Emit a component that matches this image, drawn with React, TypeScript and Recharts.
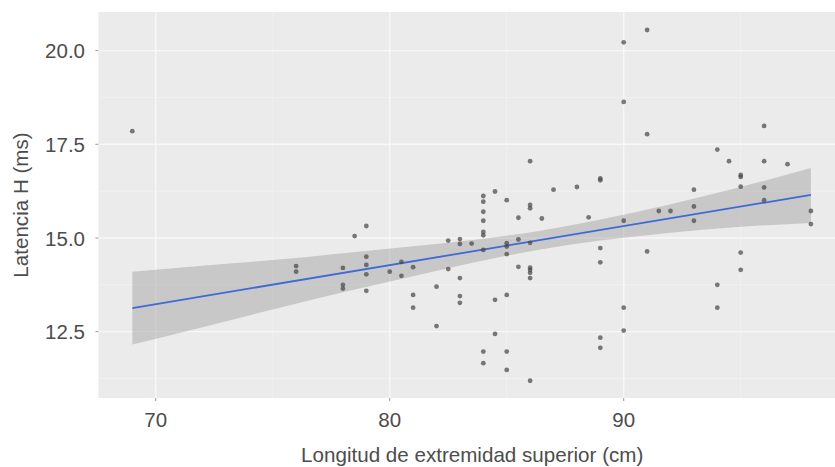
import {
  Area,
  CartesianGrid,
  ComposedChart,
  Label,
  Line,
  Scatter,
  XAxis,
  YAxis,
} from 'recharts'

// Longitud de extremidad superior (cm) y latencia H (ms).
const armLength = [
  69,
  76, 76,
  78, 78, 78, 78.5,
  79, 79, 79, 79, 79,
  80, 80.5, 80.5,
  81, 81, 81,
  82, 82, 82.5, 82.5,
  83, 83, 83, 83, 83, 83.5,
  84, 84, 84, 84, 84, 84, 84, 84, 84,
  84.5, 84.5, 84.5,
  85, 85, 85, 85, 85, 85, 85,
  85.5, 85.5, 85.5,
  86, 86, 86, 86, 86, 86, 86, 86, 86,
  86.5, 87, 88, 88.5,
  89, 89, 89, 89, 89, 89,
  90, 90, 90, 90, 90,
  91, 91, 91, 91.5, 92,
  93, 93, 93,
  94, 94, 94, 94.5,
  95, 95, 95, 95, 95,
  96, 96, 96, 96,
  97, 98, 98,
]
const latencyH = [
  17.85,
  14.25, 14.1,
  14.2, 13.75, 13.65, 15.05,
  15.32, 14.5, 14.28, 14.03, 13.59,
  14.1, 14.36, 13.99,
  14.22, 13.48, 13.14,
  13.7, 12.65, 14.93, 14.17,
  14.97, 14.84, 13.93, 13.45, 13.27, 14.85,
  16.12, 15.97, 15.7, 15.46, 15.16, 15.07, 14.68, 11.97, 11.66,
  16.24, 13.35, 12.44,
  16.01, 14.86, 14.77, 14.57, 13.48, 11.97, 11.48,
  15.54, 14.96, 14.23,
  17.05, 15.88, 15.79, 14.87, 14.21, 14.15, 14.07, 13.93, 11.19,
  15.52, 16.29, 16.36, 15.55,
  16.59, 16.54, 14.73, 14.35, 12.34, 12.07,
  20.22, 18.63, 15.46, 13.14, 12.53,
  20.55, 17.77, 14.64, 15.72, 15.72,
  16.29, 15.84, 15.46,
  17.36, 13.75, 13.14, 17.05,
  16.68, 16.63, 16.37, 14.61, 14.15,
  17.99, 17.05, 16.35, 16.01,
  16.97, 15.72, 15.37,
]

// Banda de confianza del ajuste lineal (bordes).
const bandX = [69, 72, 75, 78, 81, 84, 86.5, 89, 92, 95, 98]
const bandLow = [12.16, 12.62, 13.09, 13.55, 13.98, 14.4, 14.7, 14.93, 15.14, 15.3, 15.4]
const bandHigh = [14.1, 14.26, 14.41, 14.59, 14.78, 14.98, 15.2, 15.49, 15.9, 16.36, 16.87]
// Recta de regresión: extremos.
const fitX = [69, 98]
const fitY = [13.13, 16.15]

const xTicks = [70, 80, 90]
const xMinor = [75, 85, 95]
const yTicks = [12.5, 15, 17.5, 20]
const yMinor = [11.25, 13.75, 16.25, 18.75]

const X_DOMAIN = [67.55, 99.5]
const Y_DOMAIN = [10.73, 21.03]

const font = '"Liberation Sans", Arial, sans-serif'
const textColor = '#4D4D4D'

const bandData = bandX.map((x, i) => ({
  x,
  range: [bandLow[i], bandHigh[i]],
  fit: fitX.indexOf(x) >= 0 ? fitY[fitX.indexOf(x)] : null,
}))
const points = armLength.map((x, i) => ({ x, y: latencyH[i] }))

const XTick = (props: any) => (
  <text x={props.x} y={props.y + 26} textAnchor="middle" fontFamily={font} fontSize={20.5} fill={textColor}>
    {props.payload.value}
  </text>
)

const YTick = (props: any) => (
  <text x={props.x - 10.4} y={props.y + 7.8} textAnchor="end" fontFamily={font} fontSize={20.5} fill={textColor}>
    {Number(props.payload.value).toFixed(1)}
  </text>
)

const Dot = (props: any) => <circle cx={props.cx} cy={props.cy} r={2.4} fill="#444" fillOpacity={0.7} />

// ggplot: cuadrícula menor fina, mayor más gruesa, ambas blancas.
const toPx = (v: number, d: number[], start: number, size: number) => start + ((v - d[0]) / (d[1] - d[0])) * size

export default function App() {
  return (
    <div style={{ position: 'absolute', left: 0, top: 0, width: 835, height: 467, overflow: 'hidden', background: '#fff' }}>
      <ComposedChart width={850} height={467} data={bandData} margin={{ top: 12, right: 4, bottom: 0, left: 0 }}>
        <CartesianGrid
          fill="#EBEBEB"
          stroke="#F3F3F3"
          strokeWidth={0.8}
          verticalCoordinatesGenerator={({ offset }: any) => xMinor.map((v) => toPx(v, X_DOMAIN, offset.left, offset.width))}
          horizontalCoordinatesGenerator={({ offset }: any) => yMinor.map((v) => offset.top + offset.height - toPx(v, Y_DOMAIN, 0, offset.height))}
        />
        <CartesianGrid
          stroke="#F7F7F7"
          strokeWidth={1.4}
          verticalCoordinatesGenerator={({ offset }: any) => xTicks.map((v) => toPx(v, X_DOMAIN, offset.left, offset.width))}
          horizontalCoordinatesGenerator={({ offset }: any) => yTicks.map((v) => offset.top + offset.height - toPx(v, Y_DOMAIN, 0, offset.height))}
        />
        <XAxis
          dataKey="x"
          type="number"
          domain={X_DOMAIN}
          allowDataOverflow
          ticks={xTicks}
          height={69}
          axisLine={false}
          tickSize={3}
          tickMargin={0}
          tickLine={{ stroke: '#999', strokeWidth: 1 }}
          tick={XTick}
        >
          <Label
            content={(p: any) => (
              <text
                x={p.viewBox.x + p.viewBox.width / 2}
                y={p.viewBox.y + 64}
                textAnchor="middle"
                fontFamily={font}
                fontSize={20.6}
                fill={textColor}
              >
                Longitud de extremidad superior (cm)
              </text>
            )}
          />
        </XAxis>
        <YAxis
          type="number"
          domain={Y_DOMAIN}
          allowDataOverflow
          ticks={yTicks}
          width={98.4}
          axisLine={false}
          tickSize={3}
          tickMargin={0}
          tickLine={{ stroke: '#999', strokeWidth: 1 }}
          tick={YTick}
        >
          <Label
            content={(p: any) => {
              const cy = p.viewBox.y + p.viewBox.height / 2
              return (
                <text
                  x={28}
                  y={cy}
                  transform={`rotate(-90, 28, ${cy})`}
                  textAnchor="middle"
                  fontFamily={font}
                  fontSize={20.6}
                  fill={textColor}
                >
                  Latencia H (ms)
                </text>
              )
            }}
          />
        </YAxis>

        <Area
          dataKey="range"
          type="monotone"
          stroke="none"
          fill="#999999"
          fillOpacity={0.42}
          isAnimationActive={false}
          activeDot={false}
        />
        <Line
          dataKey="fit"
          type="linear"
          stroke="#3F68D8"
          strokeWidth={1.8}
          dot={false}
          activeDot={false}
          connectNulls
          isAnimationActive={false}
        />
        <Scatter data={points} dataKey="y" shape={Dot} isAnimationActive={false} />
      </ComposedChart>
    </div>
  )
}
